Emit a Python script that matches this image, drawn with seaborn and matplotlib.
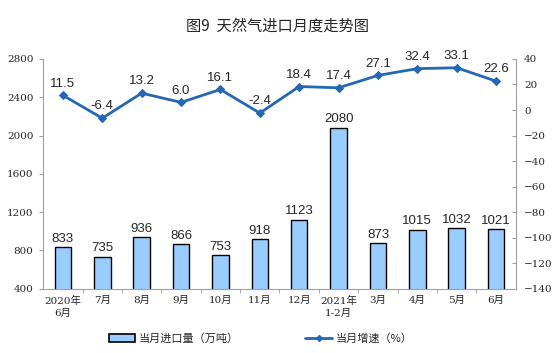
import seaborn as sns
import matplotlib.pyplot as plt
import pandas as pd

months = ["2020年\n6月", "7月", "8月", "9月", "10月", "11月", "12月",
          "2021年\n1-2月", "3月", "4月", "5月", "6月"]
imports = [833, 735, 936, 866, 753, 918, 1123, 2080, 873, 1015, 1032, 1021]
growth = [11.5, -6.4, 13.2, 6.0, 16.1, -2.4, 18.4, 17.4, 27.1, 32.4, 33.1, 22.6]
left_ticks = [400, 800, 1200, 1600, 2000, 2400, 2800]
right_ticks = [-140, -120, -100, -80, -60, -40, -20, 0, 20, 40]

sns.set_style("white")
plt.rcParams["font.family"] = ["Liberation Sans", "Noto Sans CJK SC"]
tick_font = ["DejaVu Serif", "Noto Sans CJK SC"]

df = pd.DataFrame({"month": months, "imports": imports, "growth": growth})
df["pos"] = range(len(df))

fig = plt.figure(figsize=(5.54, 3.53), dpi=100)
ax = fig.add_axes([0.078, 0.182, 0.853, 0.651])

sns.barplot(x="month", y="imports", data=df, ax=ax, color="#99CCFF",
            edgecolor="black", linewidth=1.0, width=0.42, saturation=1)
ax.set_ylim(400, 2800)
ax.set_yticks(left_ticks)
ax.set_xlim(-0.5, len(months) - 0.5)
for p, v in zip(df["pos"], df["imports"]):
    ax.text(p, v + 25, str(v), ha="center", va="bottom", fontsize=9.5)

ax2 = ax.twinx()
sns.lineplot(x="pos", y="growth", data=df, ax=ax2, color="#2468B4",
             linewidth=2, marker="D", markersize=4, markeredgecolor="#2468B4")
ax2.set_ylim(-140, 40)
ax2.set_yticks(right_ticks)
ax2.set_xlim(-0.5, len(months) - 0.5)
for p, v in zip(df["pos"], df["growth"]):
    ax2.text(p, v + 4.5, f"{v:.1f}", ha="center", va="bottom", fontsize=9.5)

fig.text(0.5, 0.925, "图9  天然气进口月度走势图", ha="center", va="center",
         fontsize=11, family=["Noto Sans CJK SC"])

for a in (ax, ax2):
    a.set_xlabel("")
    a.set_ylabel("")
    a.spines["top"].set_visible(False)
    for s in ("left", "right", "bottom"):
        a.spines[s].set_color("#A0A0A0")
        a.spines[s].set_linewidth(0.8)
ax.spines["right"].set_visible(False)
ax2.spines["left"].set_visible(False)
ax2.spines["bottom"].set_visible(False)

ax.tick_params(axis="y", length=3, color="#A0A0A0", labelsize=7.5, pad=4, left=True)
ax2.tick_params(axis="y", length=3, color="#A0A0A0", labelsize=7.5, pad=6, right=True, direction="in")
ax.tick_params(axis="x", length=0, labelsize=7.5, pad=5)
ax.set_xticks(range(len(months)))
ax.set_xticklabels(months, linespacing=1.5)
ax.set_xticks([i + 0.5 for i in range(len(months) - 1)], minor=True)
ax.tick_params(axis="x", which="minor", length=3, color="#A0A0A0", bottom=True)
for lbl in ax.get_xticklabels() + ax.get_yticklabels() + ax2.get_yticklabels():
    lbl.set_family(tick_font)

handles = [
    plt.Rectangle((0, 0), 1, 1, facecolor="#99CCFF", edgecolor="black", linewidth=1.2),
    plt.Line2D([], [], color="#2468B4", linewidth=2, marker="D", markersize=3),
]
fig.legend(handles, ["当月进口量（万吨）", "当月增速（%）"], loc="center",
           bbox_to_anchor=(0.47, 0.04), ncol=2, frameon=False,
           columnspacing=6, handlelength=2.4, handleheight=0.7, handletextpad=0.3,
           prop={"family": ["Noto Sans CJK SC"], "size": 8})

fig.savefig("out.png", dpi=100)
